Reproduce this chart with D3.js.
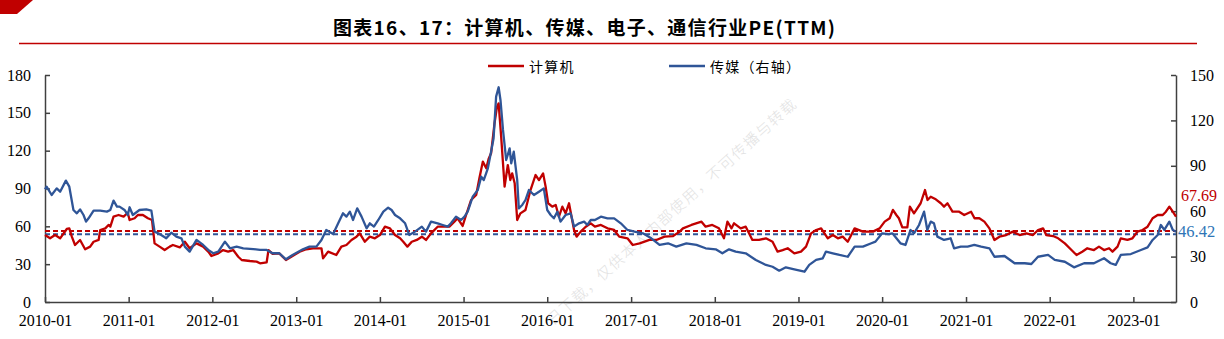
<!DOCTYPE html>
<html>
<head>
<meta charset="utf-8">
<script src="https://cdn.jsdelivr.net/npm/d3@7"></script>
<style>
  html, body { margin: 0; padding: 0; background: #fff; }
  svg { display: block; }
</style>
</head>
<body>
<svg id="chart" width="1224" height="339"></svg>
<script>
// 计算机 PE(TTM), left axis
const computerPE = [
  ["2010-01-01",53.1],["2010-01-23",50.5],["2010-02-14",53.1],["2010-03-08",50.5],["2010-04-06",57.9],
  ["2010-04-17",58.4],["2010-04-28",51.8],["2010-05-12",45.2],["2010-06-03",49.2],["2010-06-25",41.8],
  ["2010-07-17",43.9],["2010-08-01",47.8],["2010-08-23",49.2],["2010-08-30",57.1],["2010-09-21",58.4],
  ["2010-10-05",61.1],["2010-10-13",59.7],["2010-10-27",67.7],["2010-11-18",69.0],["2010-12-10",67.7],
  ["2010-12-28",70.8],["2011-01-05",65.0],["2011-01-27",66.4],["2011-02-10",69.0],["2011-03-04",69.0],
  ["2011-03-26",66.4],["2011-04-13",65.0],["2011-04-24",46.5],["2011-05-16",43.9],["2011-06-07",41.2],
  ["2011-06-29",43.9],["2011-07-13",45.2],["2011-08-12",43.3],["2011-09-03",47.8],["2011-09-24",42.6],
  ["2011-10-24",46.5],["2011-11-22",43.9],["2011-12-14",39.9],["2011-12-28",36.5],["2012-01-27",38.6],
  ["2012-02-17",41.2],["2012-03-10",39.9],["2012-04-01",41.2],["2012-04-23",35.9],["2012-05-08",33.3],
  ["2012-06-13",32.5],["2012-07-12",32.0],["2012-07-27",30.7],["2012-08-25",31.5],["2012-09-02",41.2],
  ["2012-09-20",38.1],["2012-10-19",38.6],["2012-11-17",33.3],["2012-12-16",36.5],["2013-01-16",39.9],
  ["2013-02-14",41.8],["2013-03-15",42.6],["2013-04-21",42.6],["2013-04-28",34.6],["2013-05-20",39.9],
  ["2013-06-25",37.3],["2013-07-17",43.9],["2013-08-08",45.2],["2013-08-30",49.2],["2013-09-21",51.8],
  ["2013-10-05",54.4],["2013-10-27",47.8],["2013-11-18",51.8],["2013-12-10",50.5],["2014-01-01",53.1],
  ["2014-01-23",59.7],["2014-02-14",58.4],["2014-03-08",53.1],["2014-03-30",50.5],["2014-04-13",47.8],
  ["2014-05-01",43.9],["2014-05-20",47.8],["2014-06-11",49.2],["2014-07-03",51.8],["2014-07-21",49.2],
  ["2014-08-12",54.4],["2014-09-10",59.7],["2014-10-09",59.7],["2014-10-31",59.7],["2014-11-22",63.7],
  ["2014-12-06",66.4],["2014-12-28",60.3],["2015-01-12",69.0],["2015-02-03",80.9],["2015-02-25",84.9],
  ["2015-03-11",98.1],["2015-03-26",111.3],["2015-04-10",106.0],["2015-04-21",113.9],["2015-05-01",117.9],
  ["2015-05-16",141.7],["2015-05-27",154.9],["2015-06-03",157.5],["2015-06-14",131.1],["2015-06-29",91.5],
  ["2015-07-13",108.6],["2015-07-24",96.7],["2015-08-01",102.0],["2015-08-12",94.1],["2015-08-23",65.0],
  ["2015-09-06",70.3],["2015-09-28",73.0],["2015-10-20",88.8],["2015-11-11",100.7],["2015-11-26",96.7],
  ["2015-12-14",102.0],["2015-12-25",91.5],["2016-01-05",78.3],["2016-01-23",75.6],["2016-02-07",76.9],
  ["2016-02-21",67.6],["2016-03-07",75.6],["2016-03-21",70.3],["2016-04-05",78.3],["2016-04-12",71.6],
  ["2016-04-27",57.1],["2016-05-08",51.8],["2016-05-26",55.8],["2016-06-17",59.7],["2016-07-09",62.4],
  ["2016-07-27",59.7],["2016-08-22",61.1],["2016-09-20",58.4],["2016-10-19",57.1],["2016-11-10",51.8],
  ["2016-12-16",50.5],["2017-01-08",45.2],["2017-02-07",46.5],["2017-03-22",49.2],["2017-04-21",49.2],
  ["2017-05-27",51.8],["2017-07-03",52.3],["2017-08-01",55.8],["2017-08-15",58.4],["2017-09-21",61.1],
  ["2017-11-04",63.7],["2017-11-22",59.7],["2017-12-21",61.1],["2018-01-19",58.4],["2018-02-10",50.5],
  ["2018-02-25",63.7],["2018-03-15",58.4],["2018-03-26",62.4],["2018-04-24",58.4],["2018-05-16",59.7],
  ["2018-06-14",49.2],["2018-07-13",49.2],["2018-08-12",50.5],["2018-09-10",47.8],["2018-10-02",39.9],
  ["2018-10-24",41.2],["2018-11-15",42.6],["2018-12-14",38.6],["2019-01-12",39.9],["2019-02-03",43.9],
  ["2019-02-25",54.4],["2019-03-19",57.1],["2019-04-10",58.4],["2019-05-09",50.5],["2019-05-31",53.1],
  ["2019-06-22",50.5],["2019-07-13",51.8],["2019-08-04",47.8],["2019-09-03",58.4],["2019-10-09",55.8],
  ["2019-11-22",55.8],["2019-12-21",58.4],["2020-01-12",63.7],["2020-02-03",66.4],["2020-02-17",73.0],
  ["2020-03-03",69.0],["2020-03-14",66.4],["2020-03-29",59.2],["2020-04-20",59.2],["2020-05-01",75.6],
  ["2020-05-19",70.3],["2020-06-17",78.3],["2020-07-06",88.8],["2020-07-17",80.9],["2020-07-31",83.5],
  ["2020-08-22",81.4],["2020-09-13",78.3],["2020-09-27",75.6],["2020-10-12",78.3],["2020-11-03",71.6],
  ["2020-12-02",71.6],["2020-12-24",69.0],["2021-01-23",71.6],["2021-02-07",66.4],["2021-02-28",66.4],
  ["2021-03-22",63.7],["2021-04-13",58.4],["2021-05-05",49.2],["2021-05-27",51.8],["2021-06-25",53.1],
  ["2021-07-24",55.8],["2021-08-23",53.1],["2021-09-21",54.4],["2021-10-20",53.1],["2021-11-11",57.1],
  ["2021-12-03",58.4],["2021-12-17",53.1],["2022-01-16",52.3],["2022-02-07",50.5],["2022-03-08",46.5],
  ["2022-04-06",41.2],["2022-04-28",37.3],["2022-05-23",39.9],["2022-06-14",42.6],["2022-07-13",41.2],
  ["2022-08-04",43.9],["2022-08-26",41.2],["2022-09-17",42.6],["2022-10-02",39.9],["2022-10-24",43.9],
  ["2022-11-07",50.5],["2022-12-06",49.2],["2022-12-28",50.5],["2023-01-19",55.8],["2023-02-10",57.1],
  ["2023-03-04",59.7],["2023-03-26",66.4],["2023-04-17",69.0],["2023-05-09",69.0],["2023-05-23",71.6],
  ["2023-06-07",75.6],["2023-06-22",71.6],["2023-07-06",67.69]
];

// 传媒 PE(TTM), right axis
const mediaPE = [
  ["2010-01-01",74.5],["2010-01-08",76.2],["2010-01-30",70.7],["2010-02-21",75.1],["2010-03-08",72.9],
  ["2010-04-02",80.2],["2010-04-17",76.2],["2010-05-05",60.8],["2010-05-20",58.6],["2010-06-03",61.2],
  ["2010-06-18",57.5],["2010-06-29",53.1],["2010-07-10",55.3],["2010-08-01",60.4],["2010-08-30",60.4],
  ["2010-09-28",59.7],["2010-10-13",60.8],["2010-10-27",67.0],["2010-11-11",63.0],["2010-11-22",63.0],
  ["2010-12-14",60.8],["2010-12-28",57.5],["2011-01-05",62.6],["2011-01-19",57.5],["2011-02-17",60.8],
  ["2011-03-19",61.2],["2011-04-10",60.4],["2011-04-24",46.5],["2011-05-16",44.9],["2011-06-14",42.1],
  ["2011-07-06",45.8],["2011-07-28",43.2],["2011-08-19",42.1],["2011-09-03",36.6],["2011-09-24",33.3],
  ["2011-10-24",41.0],["2011-11-22",37.7],["2011-12-14",34.4],["2012-01-05",32.2],["2012-01-27",33.3],
  ["2012-02-25",39.9],["2012-03-18",35.5],["2012-04-16",36.6],["2012-05-15",35.5],["2012-06-28",35.0],
  ["2012-07-27",34.4],["2012-08-25",34.4],["2012-09-20",32.2],["2012-10-19",32.2],["2012-11-17",28.2],
  ["2012-12-16",31.1],["2013-01-30",34.8],["2013-02-28",36.6],["2013-03-30",36.6],["2013-04-21",41.0],
  ["2013-05-12",47.6],["2013-06-11",44.9],["2013-07-03",52.0],["2013-07-24",58.6],["2013-08-08",56.4],
  ["2013-08-23",59.7],["2013-09-06",54.2],["2013-09-24",61.9],["2013-10-13",56.4],["2013-11-04",48.7],
  ["2013-11-18",52.0],["2013-12-06",49.8],["2013-12-25",54.2],["2014-01-16",59.7],["2014-02-06",62.3],
  ["2014-02-21",60.8],["2014-03-08",57.5],["2014-03-30",55.3],["2014-04-21",52.0],["2014-05-09",44.3],
  ["2014-06-03",46.5],["2014-07-03",49.8],["2014-07-21",46.5],["2014-08-12",53.1],["2014-09-10",52.0],
  ["2014-10-02",50.9],["2014-10-24",49.8],["2014-11-07",52.0],["2014-11-29",56.4],["2014-12-21",54.2],
  ["2015-01-05",56.4],["2015-01-19",59.7],["2015-02-10",69.6],["2015-03-04",74.0],["2015-03-19",82.8],
  ["2015-03-30",80.6],["2015-04-17",88.3],["2015-05-01",99.3],["2015-05-12",108.2],["2015-05-23",135.7],
  ["2015-06-03",141.9],["2015-06-11",133.5],["2015-06-22",113.7],["2015-07-06",93.8],["2015-07-21",101.5],
  ["2015-07-28",91.6],["2015-08-08",99.3],["2015-08-23",80.6],["2015-08-30",61.9],["2015-09-14",64.1],
  ["2015-09-28",67.4],["2015-10-13",74.0],["2015-11-04",70.7],["2015-11-26",72.9],["2015-12-17",75.1],
  ["2016-01-01",60.8],["2016-01-16",57.5],["2016-01-30",55.3],["2016-02-14",59.7],["2016-02-28",53.1],
  ["2016-03-21",57.5],["2016-04-12",58.6],["2016-04-27",49.8],["2016-05-19",52.0],["2016-06-10",53.1],
  ["2016-06-24",50.9],["2016-07-09",54.2],["2016-07-27",54.2],["2016-08-22",56.4],["2016-09-20",55.3],
  ["2016-10-19",55.3],["2016-11-17",52.0],["2016-12-16",47.6],["2017-01-16",46.5],["2017-02-21",45.4],
  ["2017-03-30",42.1],["2017-05-05",37.7],["2017-06-11",38.8],["2017-07-17",36.6],["2017-08-30",38.8],
  ["2017-10-13",37.7],["2017-11-22",35.5],["2018-01-05",34.8],["2018-02-03",32.2],["2018-03-04",34.8],
  ["2018-04-02",33.3],["2018-05-16",32.2],["2018-06-29",27.8],["2018-08-12",24.5],["2018-09-10",23.3],
  ["2018-10-09",20.7],["2018-11-07",22.9],["2018-12-14",21.6],["2019-01-27",20.0],["2019-02-17",24.5],
  ["2019-03-19",27.8],["2019-04-17",28.9],["2019-05-01",33.3],["2019-05-31",32.2],["2019-06-29",31.1],
  ["2019-08-04",29.9],["2019-09-03",36.6],["2019-10-09",36.6],["2019-11-15",38.8],["2019-12-03",39.9],
  ["2020-01-01",45.4],["2020-01-30",44.9],["2020-02-14",45.4],["2020-02-21",44.3],["2020-03-21",38.8],
  ["2020-04-12",37.7],["2020-05-04",47.6],["2020-05-19",45.4],["2020-06-10",50.9],["2020-07-02",59.7],
  ["2020-07-16",47.6],["2020-07-31",53.1],["2020-08-14",52.0],["2020-08-29",43.2],["2020-09-27",41.0],
  ["2020-10-26",42.1],["2020-11-10",35.5],["2020-12-09",36.6],["2021-01-08",36.6],["2021-02-06",37.7],
  ["2021-03-08",36.6],["2021-04-13",35.5],["2021-05-05",29.9],["2021-06-18",30.4],["2021-08-01",25.6],
  ["2021-09-14",25.6],["2021-10-13",25.1],["2021-11-11",29.9],["2021-12-25",31.1],["2022-01-23",27.8],
  ["2022-03-08",26.6],["2022-04-17",22.9],["2022-05-31",25.6],["2022-07-13",25.6],["2022-08-26",28.9],
  ["2022-09-24",25.6],["2022-10-16",24.5],["2022-11-07",31.1],["2022-12-21",31.7],["2023-02-03",34.4],
  ["2023-03-04",36.1],["2023-03-26",41.0],["2023-04-17",44.3],["2023-05-01",50.9],["2023-05-16",47.6],
  ["2023-06-07",53.1],["2023-06-22",47.6],["2023-07-06",46.42]
];

// Long-run averages drawn as dashed reference lines
const computerAvg = 56.3;
const mediaAvg = 44.7;

const leftTicks = [0, 30, 60, 90, 120, 150, 180];
const rightTicks = [0, 30, 60, 90, 120, 150];
const yearTicks = ["2010-01","2011-01","2012-01","2013-01","2014-01","2015-01","2016-01",
                   "2017-01","2018-01","2019-01","2020-01","2021-01","2022-01","2023-01"];

const seriesNames = ["计算机", "传媒（右轴）"];
const titleText = "图表16、17：计算机、传媒、电子、通信行业PE(TTM)";
const watermarkText = "日下载，仅供本人内部使用，不可传播与转载";

const RED = "#C00000";
const BLUE = "#2F5597";
const LABEL_BLUE = "#2E75B6";

const parse = d3.timeParse("%Y-%m-%d");
const parseMonth = d3.timeParse("%Y-%m");
const comp = computerPE.map(([d, v]) => ({ date: parse(d), value: v }));
const media = mediaPE.map(([d, v]) => ({ date: parse(d), value: v }));

const svg = d3.select("#chart");
const plot = { left: 45, right: 1176, top: 75, bottom: 302 };

const x = d3.scaleTime()
  .domain([parse("2010-01-01"), comp[comp.length - 1].date])
  .range([plot.left, plot.right]);
const yL = d3.scaleLinear().domain([0, 180]).range([plot.bottom, plot.top]);
const yR = d3.scaleLinear().domain([0, 150]).range([plot.bottom, plot.top]);

// header decoration
svg.append("polygon")
  .attr("points", "0,0 33,0 17,14 0,14")
  .attr("fill", RED);

svg.append("text")
  .attr("x", 584).attr("y", 35)
  .attr("text-anchor", "middle")
  .attr("font-family", "'Noto Sans CJK SC', sans-serif")
  .attr("font-weight", "bold")
  .attr("font-size", 19)
  .attr("textLength", 502)
  .attr("lengthAdjust", "spacing")
  .attr("fill", "#000")
  .text(titleText);

svg.append("line")
  .attr("x1", 19).attr("x2", 1197)
  .attr("y1", 43.5).attr("y2", 43.5)
  .attr("stroke", RED).attr("stroke-width", 1.5);

// watermark
svg.append("text")
  .attr("transform", "translate(553,326) rotate(-42)")
  .attr("font-family", "'Noto Sans CJK SC', sans-serif")
  .attr("font-weight", 300)
  .attr("font-size", 15)
  .attr("letter-spacing", 1.5)
  .attr("fill", "#e2e2e2")
  .text(watermarkText);

// axes
const axisFont = "'Liberation Serif', 'Times New Roman', serif";
function styleAxis(g) {
  g.selectAll("path.domain").attr("stroke", "#404040").attr("stroke-width", 1.5);
  g.selectAll(".tick line").attr("stroke", "#404040").attr("stroke-width", 1.5);
  g.selectAll(".tick text")
    .attr("font-family", axisFont)
    .attr("font-size", 16)
    .attr("fill", "#000");
}

svg.append("g")
  .attr("transform", `translate(${plot.left},0)`)
  .call(d3.axisLeft(yL).tickValues(leftTicks).tickSizeInner(-5).tickSizeOuter(0).tickPadding(14))
  .call(styleAxis);

svg.append("g")
  .attr("transform", `translate(${plot.right},0)`)
  .call(d3.axisRight(yR).tickValues(rightTicks).tickSizeInner(-5).tickSizeOuter(0).tickPadding(14))
  .call(styleAxis);

svg.append("g")
  .attr("transform", `translate(0,${plot.bottom})`)
  .call(d3.axisBottom(x)
    .tickValues(yearTicks.map(parseMonth))
    .tickFormat(d3.timeFormat("%Y-%m"))
    .tickSizeInner(-5).tickSizeOuter(0).tickPadding(13))
  .call(styleAxis);

// average reference lines
svg.append("line")
  .attr("x1", plot.left).attr("x2", plot.right)
  .attr("y1", yL(computerAvg)).attr("y2", yL(computerAvg))
  .attr("stroke", RED).attr("stroke-width", 2).attr("stroke-dasharray", "5,3");
svg.append("line")
  .attr("x1", plot.left).attr("x2", plot.right)
  .attr("y1", yR(mediaAvg)).attr("y2", yR(mediaAvg))
  .attr("stroke", BLUE).attr("stroke-width", 2).attr("stroke-dasharray", "5,3");

// series lines
const lineL = d3.line().x(d => x(d.date)).y(d => yL(d.value));
const lineR = d3.line().x(d => x(d.date)).y(d => yR(d.value));

svg.append("path")
  .datum(comp)
  .attr("d", lineL)
  .attr("fill", "none")
  .attr("stroke", RED)
  .attr("stroke-width", 2.3)
  .attr("stroke-linejoin", "round");

svg.append("path")
  .datum(media)
  .attr("d", lineR)
  .attr("fill", "none")
  .attr("stroke", BLUE)
  .attr("stroke-width", 2.3)
  .attr("stroke-linejoin", "round");

// latest-value labels
const lastC = comp[comp.length - 1];
const lastM = media[media.length - 1];
svg.append("text")
  .attr("x", 1181).attr("y", yL(lastC.value) - 16)
  .attr("font-family", axisFont).attr("font-size", 16)
  .attr("fill", RED)
  .text(d3.format(".2f")(lastC.value));
svg.append("text")
  .attr("x", 1178).attr("y", yR(lastM.value) + 5)
  .attr("font-family", axisFont).attr("font-size", 16.5)
  .attr("fill", LABEL_BLUE)
  .text(d3.format(".2f")(lastM.value));

// legend
const legend = [
  { name: seriesNames[0], color: RED, x: 488 },
  { name: seriesNames[1], color: BLUE, x: 669 }
];
const lg = svg.append("g");
legend.forEach(item => {
  lg.append("line")
    .attr("x1", item.x).attr("x2", item.x + 36)
    .attr("y1", 66).attr("y2", 66)
    .attr("stroke", item.color).attr("stroke-width", 2.5);
  lg.append("text")
    .attr("x", item.x + 41).attr("y", 72)
    .attr("font-family", "'Noto Sans CJK SC', sans-serif")
    .attr("font-size", 14)
    .attr("letter-spacing", 1.2)
    .attr("fill", "#000")
    .text(item.name);
});
</script>
</body>
</html>
